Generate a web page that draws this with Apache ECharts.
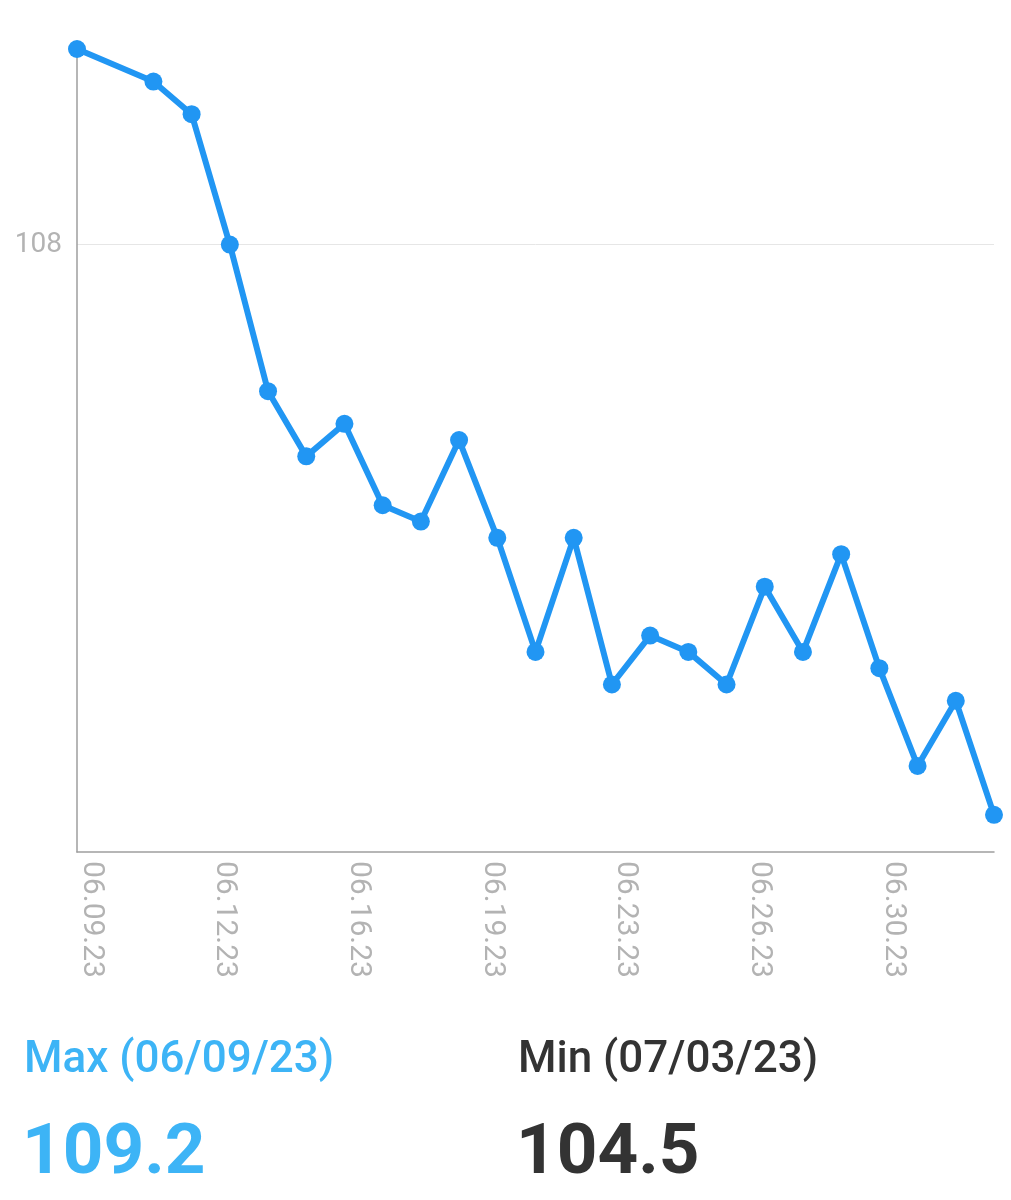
<!DOCTYPE html>
<html>
<head>
<meta charset="utf-8">
<script src="https://cdn.jsdelivr.net/npm/echarts@6/dist/echarts.min.js"></script>
<style>
  html, body { margin: 0; padding: 0; background: #ffffff; }
  #chart { width: 1011px; height: 1200px; }
</style>
</head>
<body>
<div id="chart"></div>
<script>
// ---- data ----
const dates = ['06.09.23','06.11.23','06.12.23','06.13.23','06.14.23','06.15.23','06.16.23','06.17.23',
               '06.18.23','06.19.23','06.20.23','06.21.23','06.22.23','06.23.23','06.24.23','06.25.23',
               '06.26.23','06.27.23','06.28.23','06.29.23','06.30.23','07.01.23','07.02.23','07.03.23'];
const weights = [109.2, 109.0, 108.8, 108.0, 107.1, 106.7, 106.9, 106.4,
                 106.3, 106.8, 106.2, 105.5, 106.2, 105.3, 105.6, 105.5,
                 105.3, 105.9, 105.5, 106.1, 105.4, 104.8, 105.2, 104.5];
const yTickLabels = ['108'];
const maxLabel = 'Max (06/09/23)';
const maxValue = '109.2';
const minLabel = 'Min (07/03/23)';
const minValue = '104.5';

// ---- helpers ----
function parseDate(s) {
  const p = s.split('.');
  return Date.UTC(2000 + +p[2], +p[0] - 1, +p[1]);
}
const DAY = 86400000;
const base = parseDate(dates[0]);
function pad(n) { return (n < 10 ? '0' : '') + n; }
function fmtDay(v) {
  const d = new Date(base + v * DAY);
  return pad(d.getUTCMonth() + 1) + '.' + pad(d.getUTCDate()) + '.' + pad(d.getUTCFullYear() % 100);
}
const seriesData = dates.map((d, i) => [(parseDate(d) - base) / DAY, weights[i]]);
const lastDay = (parseDate(dates[dates.length - 1]) - base) / DAY;

// y axis: bottom of plot sits a little below the lowest value, top at the highest
const yMin = 104.272;
const yMax = Math.max.apply(null, weights);
const yTick = +yTickLabels[0];

const chart = echarts.init(document.getElementById('chart'), null, { renderer: 'canvas' });
const FONT = 'Roboto, "Noto Sans", sans-serif';
const LABEL_GREY = '#b3b3b3';
const BLUE = '#2196F3';

chart.setOption({
  animation: false,
  backgroundColor: '#ffffff',
  color: [BLUE],
  grid: { left: 77, right: 17, top: 49, bottom: 348, containLabel: false },
  xAxis: {
    type: 'value',
    min: 0,
    max: lastDay,
    interval: 3.5,
    axisLine: { show: true, lineStyle: { color: '#9e9e9e', width: 1.5 } },
    axisTick: { show: false },
    splitLine: { show: false },
    axisLabel: {
      rotate: -90,
      margin: 9,
      showMaxLabel: false,
      color: LABEL_GREY,
      fontFamily: FONT,
      fontSize: 30,
      lineHeight: 28,
      verticalAlign: 'bottom',
      formatter: v => fmtDay(v)
    }
  },
  yAxis: {
    type: 'value',
    min: yMin,
    max: yMax,
    interval: yTick - yMin,
    axisLine: { show: true, lineStyle: { color: '#9e9e9e', width: 1.5 } },
    axisTick: { show: false },
    splitLine: { show: true, lineStyle: { color: ['rgba(0,0,0,0)', '#e6e6e6', 'rgba(0,0,0,0)'], width: 1 } },
    axisLabel: {
      showMinLabel: false,
      showMaxLabel: false,
      margin: 15,
      color: LABEL_GREY,
      fontFamily: FONT,
      fontSize: 28,
      formatter: v => (yTickLabels.indexOf(String(Math.round(v))) >= 0 && Math.abs(v - Math.round(v)) < 1e-6 ? String(Math.round(v)) : '')
    }
  },
  series: [{
    type: 'line',
    data: seriesData,
    clip: false,
    symbol: 'circle',
    symbolSize: 18,
    showAllSymbol: true,
    lineStyle: { color: BLUE, width: 6 },
    itemStyle: { color: BLUE, borderWidth: 0 },
    emphasis: { disabled: true }
  }],
  graphic: [
    { type: 'text', left: 24, top: 1039, style: { text: maxLabel, fill: '#3db4f6', font: '500 44px ' + FONT } },
    { type: 'text', left: 22, top: 1120, style: { text: maxValue, fill: '#3db4f6', font: 'bold 71px ' + FONT } },
    { type: 'text', left: 518, top: 1039, style: { text: minLabel, fill: '#333333', font: '500 44px ' + FONT } },
    { type: 'text', left: 516, top: 1120, style: { text: minValue, fill: '#333333', font: 'bold 71px ' + FONT } }
  ]
});
</script>
</body>
</html>
